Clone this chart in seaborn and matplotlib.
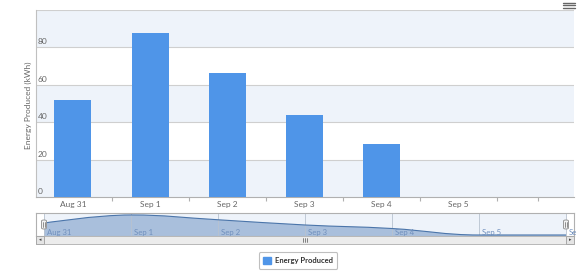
import matplotlib
matplotlib.use("Agg")
import matplotlib.pyplot as plt
import seaborn as sns
import pandas as pd
import numpy as np
from matplotlib.path import Path
from matplotlib.patches import PathPatch, Rectangle, FancyBboxPatch, Patch
from matplotlib.lines import Line2D
from matplotlib.transforms import blended_transform_factory

# ---------------- data ----------------
dates = ["Aug 31", "Sep 1", "Sep 2", "Sep 3", "Sep 4", "Sep 5", "Sep 6"]
energy = [51.9, 87.5, 66.5, 43.7, 28.3, 0, 0]
tick_labels = ["Aug 31", "Sep 1", "Sep 2", "Sep 3", "Sep 4", "Sep 5"]
nav_labels = ["Aug 31", "Sep 1", "Sep 2", "Sep 3", "Sep 4", "Sep 5", "Se"]
y_ticks = [0, 20, 40, 60, 80]
series_name = "Energy Produced"
y_title = "Energy Produced (kWh)"

BAR = "#4f95e8"
BAND = "#eef3fa"
GRID = "#cfcfcf"
TXT = "#666666"

sns.set_theme(style="white")
plt.rcParams["font.family"] = ["Lato", "DejaVu Sans"]

W, H = 578, 273
fig = plt.figure(figsize=(W / 100, H / 100), dpi=100)

def fx(px):
    return px / W

def fy(py):
    return 1 - py / H

# ---------------- main chart ----------------
ax = fig.add_axes([fx(36), fy(197.3), fx(574 - 36), (197.3 - 9.8) / H])
df = pd.DataFrame({"date": dates, "energy": energy})
sns.barplot(data=df, x="date", y="energy", order=dates, color=BAR,
            width=0.48, saturation=1, ax=ax, zorder=3, linewidth=0,
            edgecolor="none")
ax.set_xlim(-0.48, 6.5)
ax.set_ylim(0, 100)

# alternating bands
for lo in [0, 40, 80]:
    ax.axhspan(lo, lo + 20, color=BAND, zorder=0, lw=0)
for yv in [20, 40, 60, 80, 100]:
    ax.axhline(yv, color=GRID, lw=0.8, zorder=1)

for s in ["top", "right"]:
    ax.spines[s].set_visible(False)
ax.spines["left"].set_color("#c0c0c0")
ax.spines["left"].set_linewidth(0.8)
ax.spines["bottom"].set_color("#b0b0b0")
ax.spines["bottom"].set_linewidth(0.8)

ax.set_yticks([])
ax.set_xlabel("")
ax.set_ylabel("")
ax.set_xticks(range(len(tick_labels)))
ax.set_xticklabels(tick_labels, fontsize=6, color=TXT)
ax.tick_params(axis="x", length=0, pad=3)
ax.set_xticks([0.5, 1.5, 2.5, 3.5, 4.5, 5.5, 6.03], minor=True)
ax.tick_params(axis="x", which="minor", length=3, color="#b0b0b0", width=0.8,
               bottom=True)

tr = blended_transform_factory(ax.transAxes, ax.transData)
for yv in y_ticks:
    ax.text(0.003, yv + 1.0, str(yv), transform=tr, fontsize=6, color=TXT,
            ha="left", va="bottom", zorder=5)

fig.text(fx(28), fy(105), y_title, rotation=90, fontsize=6, color=TXT,
         ha="center", va="center")

# menu icon
for py in [2.5, 5.2, 7.9]:
    fig.add_artist(Line2D([fx(563), fx(575)], [fy(py), fy(py)], color="#666666",
                          lw=1.0))

# ---------------- navigator ----------------
nav = fig.add_axes([fx(36), fy(236), fx(574 - 36), 23 / H])
nav.set_xlim(-8 / 87, 6 + 8 / 87)
nav.set_ylim(-4.4, 96)
nav.axvspan(0, 6, color=BAND, lw=0, zorder=0)

xs = np.arange(len(energy), dtype=float)
ys = np.array(energy, dtype=float)

# Highcharts-like spline control points
sm, den = 1.5, 2.5
lc, rc = [], []
for i in range(len(xs)):
    x, y = xs[i], ys[i]
    if 0 < i < len(xs) - 1:
        lx, ly = xs[i - 1], ys[i - 1]
        nx_, ny_ = xs[i + 1], ys[i + 1]
        lcx = (sm * x + lx) / den
        lcy = (sm * y + ly) / den
        rcx = (sm * x + nx_) / den
        rcy = (sm * y + ny_) / den
        corr = ((rcy - lcy) * (lcx - x)) / (rcx - lcx) + y - lcy
        lcy += corr
        rcy += corr
        if lcy > max(ly, y):
            lcy = max(ly, y); rcy = 2 * y - lcy
        elif lcy < min(ly, y):
            lcy = min(ly, y); rcy = 2 * y - lcy
        if rcy > max(ny_, y):
            rcy = max(ny_, y); lcy = 2 * y - rcy
        elif rcy < min(ny_, y):
            rcy = min(ny_, y); lcy = 2 * y - rcy
        lc.append((lcx, lcy)); rc.append((rcx, rcy))
    else:
        lc.append((x, y)); rc.append((x, y))

verts = [(xs[0], ys[0])]
codes = [Path.MOVETO]
for i in range(1, len(xs)):
    verts += [rc[i - 1], lc[i], (xs[i], ys[i])]
    codes += [Path.CURVE4] * 3
line_path = Path(verts, codes)
fill_verts = verts + [(xs[-1], -4.4), (xs[0], -4.4), (xs[0], ys[0])]
fill_codes = codes + [Path.LINETO, Path.LINETO, Path.CLOSEPOLY]
nav.add_patch(PathPatch(Path(fill_verts, fill_codes), facecolor="#a9bfdc",
                        edgecolor="none", zorder=2))
nav.add_patch(PathPatch(line_path, facecolor="none", edgecolor="#4b75aa",
                        lw=0.8, zorder=3))

for i in range(7):
    nav.axvline(i, color="#b8c2cf", lw=0.6, zorder=2.5)
for i, lab in enumerate(nav_labels):
    nav.text(i + 0.03, -2.5, lab, fontsize=5.6, color="#6f8fbd", ha="left",
             va="bottom", zorder=4)
nav.set_xticks([]); nav.set_yticks([])
for s in nav.spines.values():
    s.set_color("#b0b0b0"); s.set_linewidth(0.8)

# handles
for hx in [44, 566]:
    fig.add_artist(FancyBboxPatch((fx(hx - 2.5), fy(229)), fx(5), 9 / H,
                                  boxstyle="round,pad=0,rounding_size=0.004",
                                  facecolor="#f2f2f2", edgecolor="#999999",
                                  lw=0.7))
    fig.add_artist(Line2D([fx(hx - 0.7), fx(hx - 0.7)], [fy(222), fy(227)],
                          color="#666666", lw=0.5))
    fig.add_artist(Line2D([fx(hx + 0.7), fx(hx + 0.7)], [fy(222), fy(227)],
                          color="#666666", lw=0.5))

# ---------------- scrollbar ----------------
fig.add_artist(Rectangle((fx(36), fy(243.5)), fx(538), 7.5 / H,
                         facecolor="#ececec", edgecolor="#b8b8b8", lw=0.7))
for bx in [36, 566]:
    fig.add_artist(Rectangle((fx(bx), fy(243.5)), fx(8), 7.5 / H,
                             facecolor="#e4e4e4", edgecolor="#a8a8a8", lw=0.7))
fig.text(fx(40), fy(240), "\u25c2", fontsize=3.5, color="#444444",
         ha="center", va="center", family="DejaVu Sans")
fig.text(fx(570), fy(240), "\u25b8", fontsize=3.5, color="#444444",
         ha="center", va="center", family="DejaVu Sans")
for gx in [303, 305, 307]:
    fig.add_artist(Line2D([fx(gx), fx(gx)], [fy(238), fy(242)],
                          color="#555555", lw=0.5))

# ---------------- legend ----------------
leg = fig.legend(handles=[Patch(facecolor=BAR, edgecolor=BAR, label=series_name)],
                 loc="center", bbox_to_anchor=(fx(298), fy(260.5)),
                 frameon=True, fancybox=True, fontsize=5.5, handlelength=1.0,
                 handleheight=1.0, handletextpad=0.5, borderpad=0.6,
                 edgecolor="#b0b0b0")
leg.get_frame().set_linewidth(0.8)
for t in leg.get_texts():
    t.set_fontweight("bold")
    t.set_color("#333333")

fig.savefig("out.png", dpi=100)
